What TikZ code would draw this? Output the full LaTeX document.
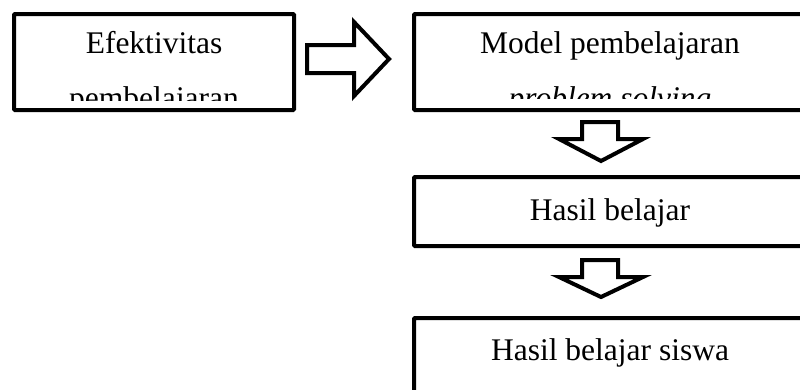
\documentclass[tikz,border=0pt]{standalone}
\usepackage{fontspec}
\setmainfont{Liberation Serif}
\begin{document}
\begin{tikzpicture}[x=1pt,y=-1pt,
  box/.style={draw, line width=4pt, rounded corners=1pt, inner sep=0pt},
  blockarrow/.style={draw, line width=4pt, fill=white, line join=miter},
  lbl/.style={anchor=base, inner sep=0pt, font=\fontsize{31.5}{38}\selectfont}]
\useasboundingbox (0,0) rectangle (800,389);
\clip (0,0) rectangle (800,389);
% boxes
\node[box, minimum width=280pt, minimum height=96pt] (b1) at (154,62) {};
\node[box, minimum width=392pt, minimum height=96pt] (b2) at (610,62) {};
\node[box, minimum width=392pt, minimum height=69pt] (b3) at (610,211.5) {};
\node[box, minimum width=392pt, minimum height=112pt] (b4) at (610,374) {};
% texts (clipped inside first two boxes)
\begin{scope}
  \clip (16,16) rectangle (292,100);
  \node[lbl] (t1a) at (154,53) {Efektivitas};
  \node[lbl] (t1b) at (154,108) {pembelajaran};
\end{scope}
\begin{scope}
  \clip (416,16) rectangle (804,98);
  \node[lbl] (t2a) at (610,53) {Model pembelajaran};
  \node[lbl] (t2b) at (610,108) {\textit{problem solving}};
\end{scope}
\node[lbl] (t3) at (610,220) {Hasil belajar};
\node[lbl] (t4) at (610,360) {Hasil belajar siswa};
% block arrows
\draw[blockarrow] (307,45) -- (354,45) -- (354,22) -- (389,59) -- (354,96) -- (354,73) -- (307,73) -- cycle;
\draw[blockarrow] (582,122) -- (618,122) -- (618,139) -- (643,139) -- (601,161) -- (559,139) -- (582,139) -- cycle;
\draw[blockarrow] (582,260) -- (618,260) -- (618,277) -- (643,277) -- (601,297) -- (559,277) -- (582,277) -- cycle;
\end{tikzpicture}
\end{document}
